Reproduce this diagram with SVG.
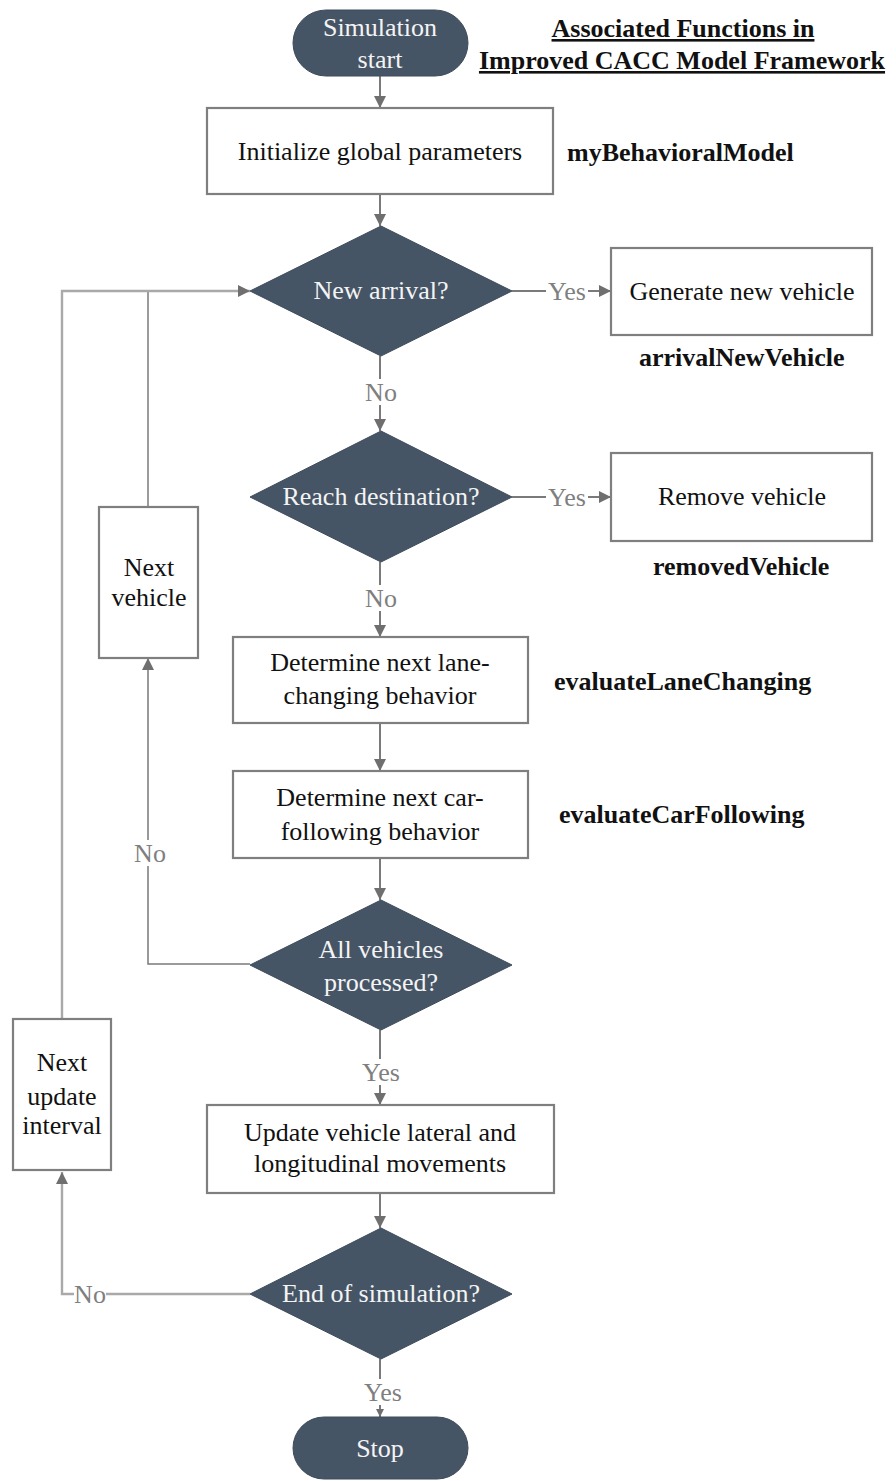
<svg xmlns="http://www.w3.org/2000/svg" width="896" height="1481" viewBox="0 0 896 1481">
<style>
text{font-family:"Liberation Serif","Times New Roman",serif;font-size:26px;text-anchor:middle}
.box{fill:#fff;stroke:#7f7f7f;stroke-width:2.2}
.dia{fill:#465566;stroke:#3e4b5a;stroke-width:1}
.term{fill:#465566;stroke:#3e4b5a;stroke-width:1}
.bt{fill:#111}
.wt{fill:#f4f4f4}
.fn{font-weight:bold;fill:#111;text-anchor:start}
.ttl{font-weight:bold;fill:#111;text-decoration:underline}
.ln{fill:none;stroke:#7a7a7a;stroke-width:2}
.lo{fill:none;stroke:#a9a9a9;stroke-width:2.4}
.li{fill:none;stroke:#7a7a7a;stroke-width:1.5}
.lbl{fill:#7f7f7f}
.bg{fill:#fff}
</style>
<defs>
<marker id="ah" markerWidth="12" markerHeight="12" refX="12" refY="6" orient="auto" markerUnits="userSpaceOnUse">
<path d="M0,0 L12,6 L0,12 Z" fill="#6f6f6f"/>
</marker>
<marker id="ahs" markerWidth="8" markerHeight="8" refX="8" refY="4" orient="auto" markerUnits="userSpaceOnUse">
<path d="M0,0 L8,4 L0,8 Z" fill="#6f6f6f"/>
</marker>
</defs>

<g id="title">
<text class="ttl" x="683" y="37">Associated Functions in</text>
<text class="ttl" x="682" y="69">Improved CACC Model Framework</text>
</g>

<g id="connectors">
<line class="ln" x1="380" y1="76" x2="380" y2="108" marker-end="url(#ah)"/>
<line class="ln" x1="380" y1="194" x2="380" y2="226" marker-end="url(#ah)"/>
<line class="ln" x1="512" y1="291" x2="611" y2="291" marker-end="url(#ah)"/>
<line class="ln" x1="380" y1="356" x2="380" y2="431" marker-end="url(#ah)"/>
<line class="ln" x1="512" y1="497" x2="611" y2="497" marker-end="url(#ah)"/>
<line class="ln" x1="380" y1="562" x2="380" y2="637" marker-end="url(#ah)"/>
<line class="ln" x1="380" y1="723" x2="380" y2="771" marker-end="url(#ah)"/>
<line class="ln" x1="380" y1="858" x2="380" y2="900" marker-end="url(#ah)"/>
<line class="ln" x1="380" y1="1030" x2="380" y2="1105" marker-end="url(#ah)"/>
<line class="ln" x1="380" y1="1193" x2="380" y2="1228" marker-end="url(#ah)"/>
<line class="ln" x1="380" y1="1359" x2="380" y2="1417" marker-end="url(#ahs)"/>
<polyline class="li" points="250,964 148,964 148,658" marker-end="url(#ah)"/>
<line class="li" x1="148" y1="507" x2="148" y2="291"/>
<polyline class="lo" points="250,1294 62,1294 62,1172" marker-end="url(#ah)"/>
<polyline class="lo" points="62,1019 62,291 250,291" marker-end="url(#ah)"/>
<rect class="bg" x="546" y="278" width="42" height="26"/>
<text class="lbl" x="567" y="300">Yes</text>
<rect class="bg" x="546" y="484" width="42" height="26"/>
<text class="lbl" x="567" y="506">Yes</text>
<rect class="bg" x="365" y="379" width="32" height="26"/>
<text class="lbl" x="381" y="401">No</text>
<rect class="bg" x="365" y="585" width="32" height="26"/>
<text class="lbl" x="381" y="607">No</text>
<rect class="bg" x="134" y="840" width="32" height="26"/>
<text class="lbl" x="150" y="862">No</text>
<rect class="bg" x="360" y="1059" width="42" height="26"/>
<text class="lbl" x="381" y="1081">Yes</text>
<rect class="bg" x="362" y="1379" width="42" height="26"/>
<text class="lbl" x="383" y="1401">Yes</text>
<rect class="bg" x="74" y="1281" width="32" height="26"/>
<text class="lbl" x="90" y="1303">No</text>
</g>

<g id="start">
<rect class="term" x="293" y="10" width="175" height="66" rx="33"/>
<text class="wt" x="380" y="36">Simulation</text>
<text class="wt" x="380" y="68">start</text>
</g>

<g id="init">
<rect class="box" x="207" y="108" width="346" height="86"/>
<text class="bt" x="380" y="160">Initialize global parameters</text>
<text class="fn" x="567" y="161">myBehavioralModel</text>
</g>

<g id="newArrival">
<polygon class="dia" points="381,226 512,291 381,356 250,291"/>
<text class="wt" x="381" y="299">New arrival?</text>
</g>

<g id="generate">
<rect class="box" x="611" y="248" width="261" height="87"/>
<text class="bt" x="742" y="300">Generate new vehicle</text>
<text class="fn" x="639" y="366">arrivalNewVehicle</text>
</g>

<g id="reachDest">
<polygon class="dia" points="381,431 512,497 381,562 250,497"/>
<text class="wt" x="381" y="505">Reach destination?</text>
</g>

<g id="remove">
<rect class="box" x="611" y="453" width="261" height="88"/>
<text class="bt" x="742" y="505">Remove vehicle</text>
<text class="fn" x="653" y="575">removedVehicle</text>
</g>

<g id="lane">
<rect class="box" x="233" y="637" width="295" height="86"/>
<text class="bt" x="380" y="671">Determine next lane-</text>
<text class="bt" x="380" y="704">changing behavior</text>
<text class="fn" x="554" y="690">evaluateLaneChanging</text>
</g>

<g id="car">
<rect class="box" x="233" y="771" width="295" height="87"/>
<text class="bt" x="380" y="806">Determine next car-</text>
<text class="bt" x="380" y="840">following behavior</text>
<text class="fn" x="559" y="823">evaluateCarFollowing</text>
</g>

<g id="allProcessed">
<polygon class="dia" points="381,900 512,965 381,1030 250,965"/>
<text class="wt" x="381" y="958">All vehicles</text>
<text class="wt" x="381" y="991">processed?</text>
</g>

<g id="nextVehicle">
<rect class="box" x="99" y="507" width="99" height="151"/>
<text class="bt" x="149" y="576">Next</text>
<text class="bt" x="149" y="606">vehicle</text>
</g>

<g id="update">
<rect class="box" x="207" y="1105" width="347" height="88"/>
<text class="bt" x="380" y="1141">Update vehicle lateral and</text>
<text class="bt" x="380" y="1172">longitudinal movements</text>
</g>

<g id="endSim">
<polygon class="dia" points="381,1228 512,1294 381,1359 250,1294"/>
<text class="wt" x="381" y="1302">End of simulation?</text>
</g>

<g id="nextInterval">
<rect class="box" x="13" y="1019" width="98" height="151"/>
<text class="bt" x="62" y="1071">Next</text>
<text class="bt" x="62" y="1105">update</text>
<text class="bt" x="62" y="1134">interval</text>
</g>

<g id="stop">
<rect class="term" x="293" y="1417" width="175" height="62" rx="31"/>
<text class="wt" x="380" y="1457">Stop</text>
</g>
</svg>
